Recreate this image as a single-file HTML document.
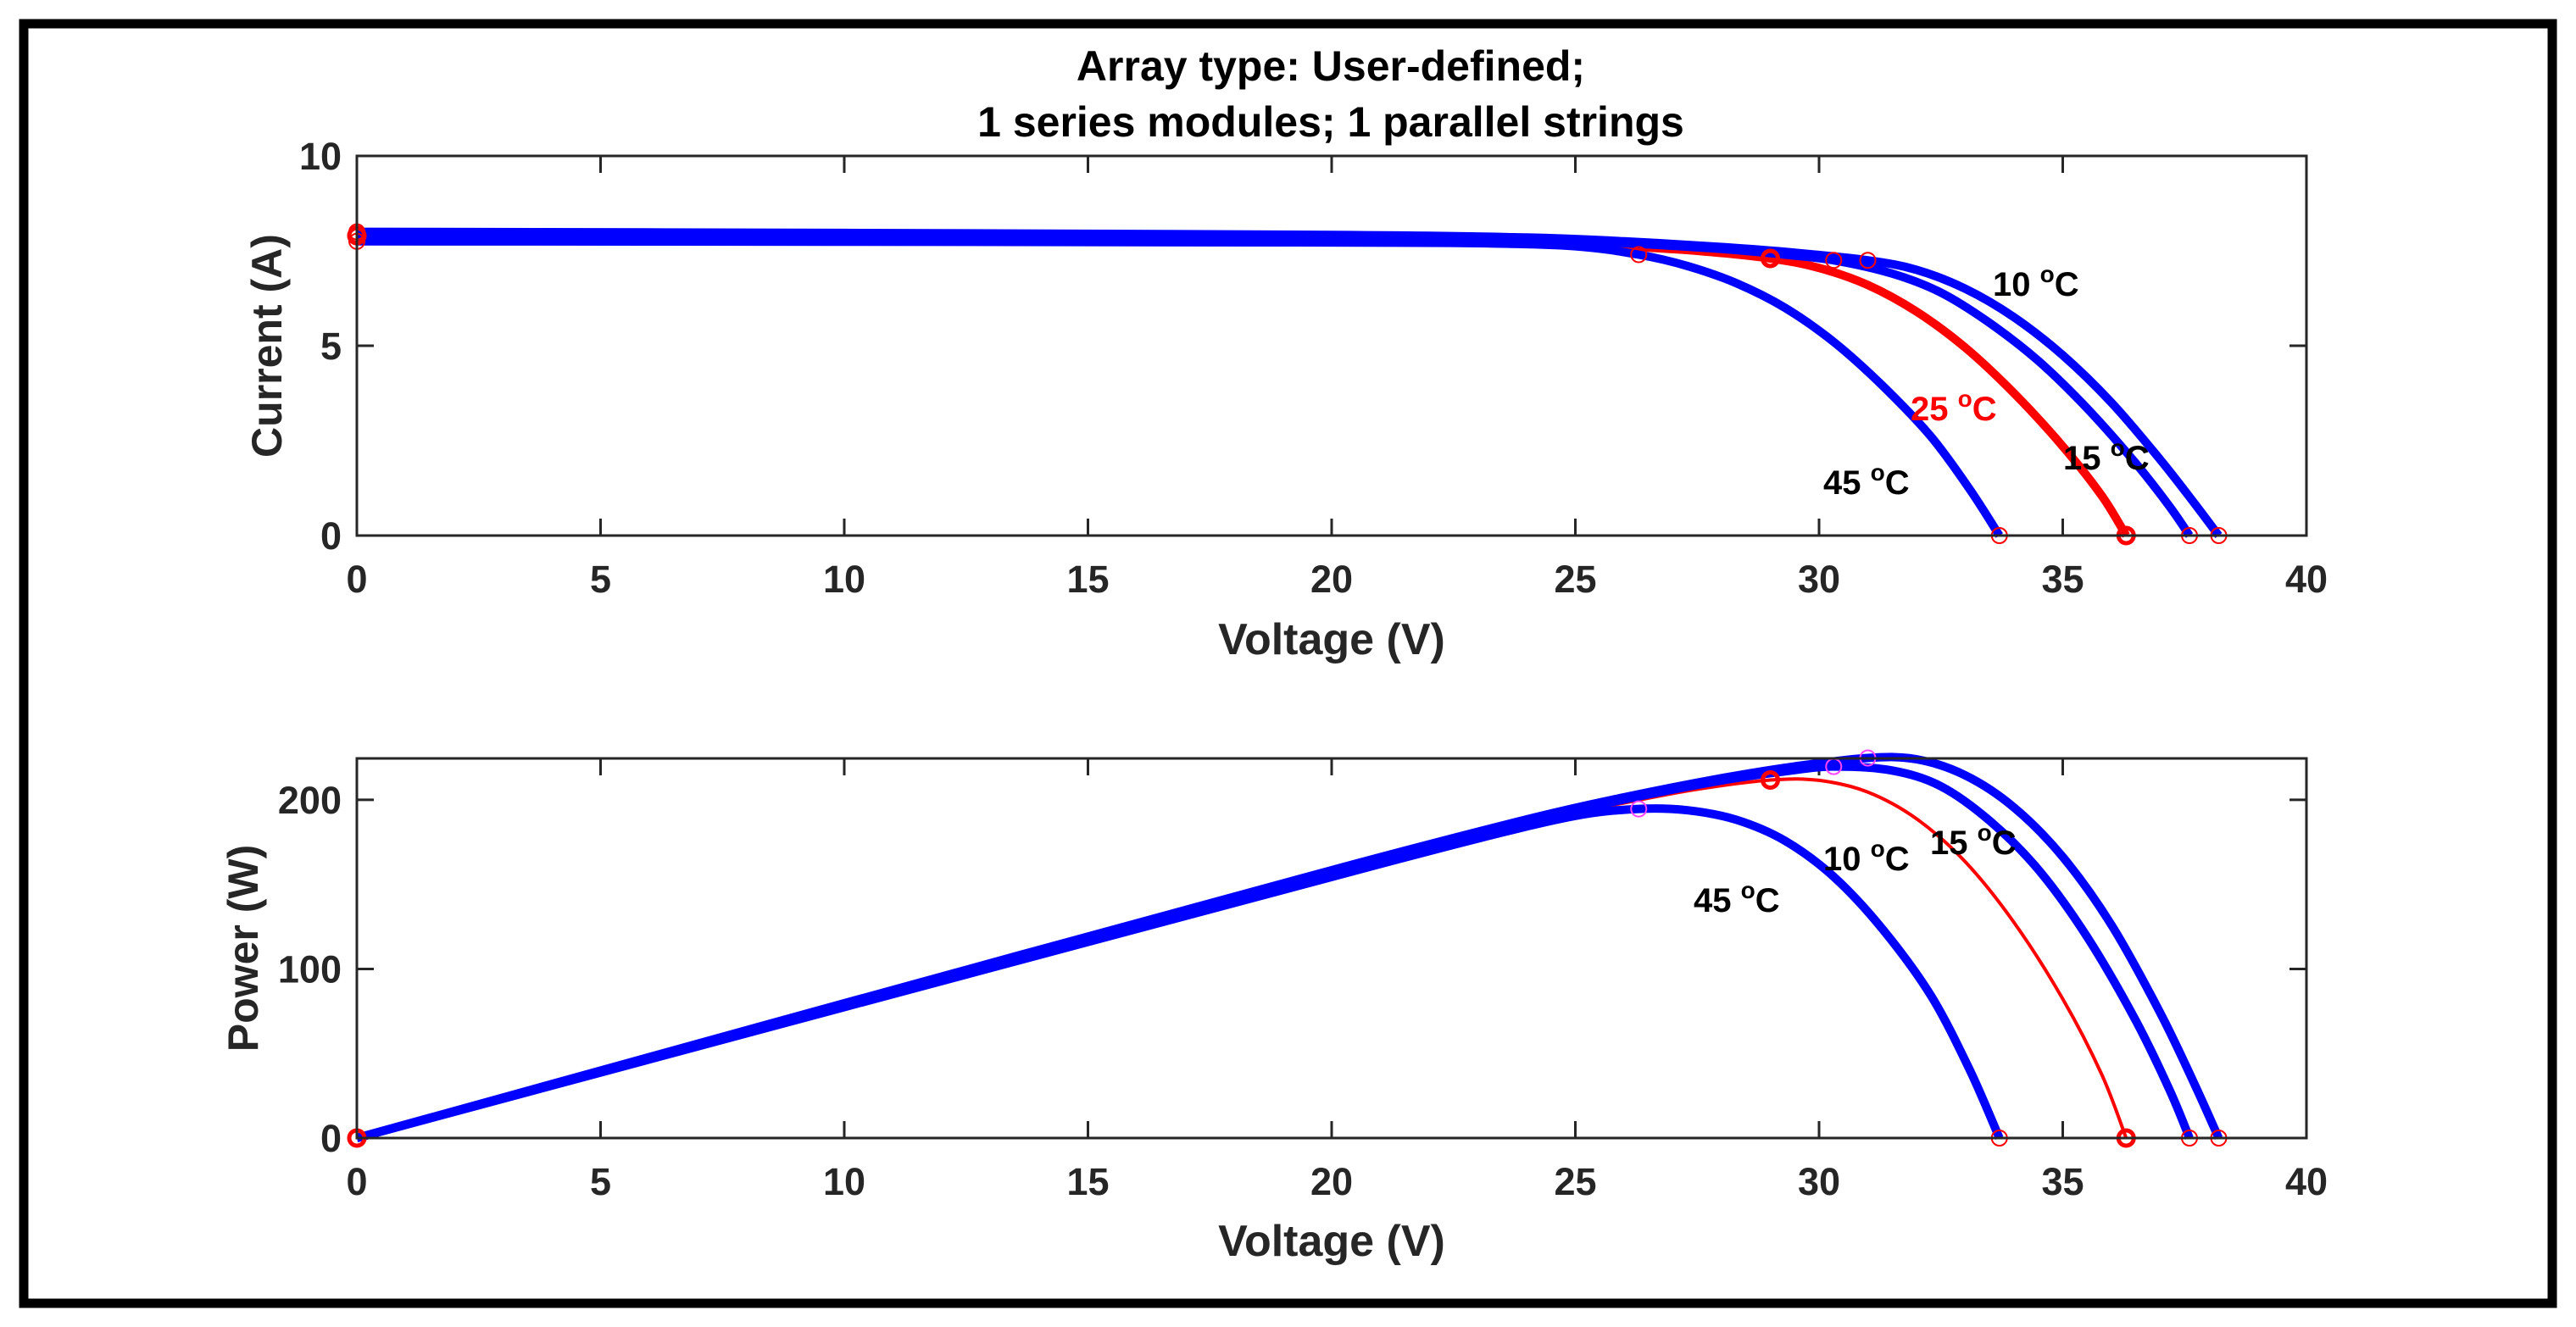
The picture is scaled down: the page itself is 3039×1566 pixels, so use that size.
<!DOCTYPE html>
<html><head><meta charset="utf-8"><style>
html,body{margin:0;padding:0;background:#fff;}
svg{display:block;font-family:"Liberation Sans",Arial,sans-serif;}
</style></head><body>
<svg id="chart" width="3039" height="1566" viewBox="0 0 3039 1566" xmlns="http://www.w3.org/2000/svg">
<rect x="0" y="0" width="3039" height="1566" fill="#fff"/>
<rect x="28" y="28" width="2983" height="1510" fill="none" stroke="#000" stroke-width="11"/>
<text x="1570" y="95" font-size="50" font-weight="bold" text-anchor="middle">Array type: User-defined;</text>
<text x="1570" y="161" font-size="50" font-weight="bold" text-anchor="middle">1 series modules; 1 parallel strings</text>
<g id="ax1"></g>
<g id="ax2"></g>
</svg>
<script>
// ---- data ----
const temps = ["45", "25", "15", "10"];
const v45 = [0, 10, 20, 23, 25, 26.3, 27.3, 28.3, 29.3, 30.3, 31.3, 32.3, 33.1, 33.7];
const i45 = [7.75, 7.74, 7.72, 7.7, 7.62, 7.4, 7.1, 6.65, 6.0, 5.1, 3.95, 2.6, 1.2, 0];
const v25 = [0, 10, 20, 24, 26, 27.5, 29, 30, 31, 32, 33, 34, 35, 35.8, 36.3];
const i25 = [7.9, 7.88, 7.83, 7.75, 7.62, 7.5, 7.3, 7.05, 6.6, 5.9, 4.95, 3.75, 2.35, 1.05, 0];
const v15 = [0, 10, 20, 24, 26, 28, 29.3, 30.3, 31.5, 32.5, 33.5, 34.5, 35.5, 36.5, 37.2, 37.6];
const i15 = [7.95, 7.92, 7.88, 7.8, 7.7, 7.55, 7.4, 7.25, 6.9, 6.4, 5.6, 4.6, 3.35, 1.9, 0.75, 0];
const v10 = [0, 10, 20, 24, 26, 28, 29.5, 31, 32, 33, 34, 35, 36, 37, 37.7, 38.2];
const i10 = [8.0, 7.97, 7.92, 7.85, 7.75, 7.6, 7.45, 7.25, 7.0, 6.5, 5.75, 4.75, 3.5, 2.0, 0.85, 0];
const mppV = [26.3, 29, 30.3, 31];
const mppI = [7.4, 7.3, 7.25, 7.25];
const xTicks = [0, 5, 10, 15, 20, 25, 30, 35, 40];
const iTicks = [0, 5, 10];
const pTicks = [0, 100, 200];

const NS = "http://www.w3.org/2000/svg";
const X0 = 421, X1 = 2721;
const xs = v => X0 + (v / 40) * (X1 - X0);
const A1 = {top: 184, bot: 632, max: 10};
const A2 = {top: 895, bot: 1343, max: 224.5};
const ys1 = i => A1.bot - (i / A1.max) * (A1.bot - A1.top);
const ys2 = p => A2.bot - (p / A2.max) * (A2.bot - A2.top);

function mk(parent, tag, attrs) {
  const e = document.createElementNS(NS, tag);
  for (const k in attrs) e.setAttribute(k, attrs[k]);
  parent.appendChild(e);
  return e;
}
function smooth(pts) {
  let d = "M" + pts[0][0].toFixed(1) + "," + pts[0][1].toFixed(1);
  for (let k = 0; k < pts.length - 1; k++) {
    const p0 = pts[Math.max(0, k - 1)], p1 = pts[k], p2 = pts[k + 1], p3 = pts[Math.min(pts.length - 1, k + 2)];
    const c1x = p1[0] + (p2[0] - p0[0]) / 6, c1y = p1[1] + (p2[1] - p0[1]) / 6;
    const c2x = p2[0] - (p3[0] - p1[0]) / 6, c2y = p2[1] - (p3[1] - p1[1]) / 6;
    d += " C" + c1x.toFixed(1) + "," + c1y.toFixed(1) + " " + c2x.toFixed(1) + "," + c2y.toFixed(1) + " " + p2[0].toFixed(1) + "," + p2[1].toFixed(1);
  }
  return d;
}

function axes(g, A, ys, ticks, xlabY, ylab, ylabX) {
  mk(g, "rect", {x: X0, y: A.top, width: X1 - X0, height: A.bot - A.top, fill: "#fff", stroke: "none"});
  xTicks.forEach(t => {
    const x = xs(t);
    let e = mk(g, "line", {x1: x, x2: x, y1: A.bot, y2: A.bot - 20, stroke: "#262626", "stroke-width": 3});
    
    
    e = mk(g, "line", {x1: x, x2: x, y1: A.top, y2: A.top + 20, stroke: "#262626", "stroke-width": 3});
    
    
    e = mk(g, "text", {x: x, y: A.bot + 67, "font-size": 45, "font-weight": "bold", "text-anchor": "middle", fill: "#262626"});
    e.textContent = t;
    
    
  });
  ticks.forEach(t => {
    const y = ys(t);
    let e = mk(g, "line", {x1: X0, x2: X0 + 20, y1: y, y2: y, stroke: "#262626", "stroke-width": 3});
    
    
    e = mk(g, "line", {x1: X1, x2: X1 - 20, y1: y, y2: y, stroke: "#262626", "stroke-width": 3});
    
    
    e = mk(g, "text", {x: X0 - 18, y: y + 16, "font-size": 45, "font-weight": "bold", "text-anchor": "end", fill: "#262626"});
    e.textContent = t;
    
    
  });
  let e = mk(g, "text", {x: 1571, y: xlabY, "font-size": 52, "font-weight": "bold", "text-anchor": "middle", fill: "#262626"});
  e.textContent = "Voltage (V)";
  
  
  const cy = (A.top + A.bot) / 2;
  e = mk(g, "text", {x: ylabX, y: cy, "font-size": 50, "font-weight": "bold", "text-anchor": "middle", fill: "#262626", transform: "rotate(-90 " + ylabX + " " + cy + ")"});
  e.textContent = ylab;
  
  
}

const g1 = document.getElementById("ax1"), g2 = document.getElementById("ax2");
axes(g1, A1, ys1, iTicks, 772, "Current (A)", 332, "iv");
axes(g2, A2, ys2, pTicks, 1482, "Power (W)", 304, "pv");

const series = [[v45, i45], [v25, i25], [v15, i15], [v10, i10]];
const colors = ["#0000ff", "#ff0000", "#0000ff", "#0000ff"];
const order = [1, 0, 2, 3];
order.forEach(s => {
  const [V, I] = series[s];
  const red = s === 1;
  let p = mk(g1, "path", {d: smooth(V.map((v, k) => [xs(v), ys1(I[k])])), fill: "none", stroke: colors[s], "stroke-width": 10, "stroke-linejoin": "round"});
  
  
  p = mk(g2, "path", {d: smooth(V.map((v, k) => [xs(v), ys2(v * I[k])])), fill: "none", stroke: colors[s], "stroke-width": red ? 4 : 10, "stroke-linejoin": "round"});
  
  
});
[0, 1, 2, 3].forEach(s => {
  const [V, I] = series[s];
  const red = s === 1;
  const sw = red ? 5 : 2;
  const voc = V[V.length - 1];
  const pts1 = [[xs(0), ys1(I[0])], [xs(mppV[s]), ys1(mppI[s])], [xs(voc), ys1(0)]];
  const pts2 = [[xs(0), ys2(0)], [xs(mppV[s]), ys2(mppV[s] * mppI[s])], [xs(voc), ys2(0)]];
  pts1.forEach(q => {
    const c = mk(g1, "circle", {cx: q[0], cy: q[1], r: 9, fill: "none", stroke: "#ff0000", "stroke-width": sw});
    
    
  });
  pts2.forEach((q, k) => {
    const c = mk(g2, "circle", {cx: q[0], cy: q[1], r: 9, fill: "none", stroke: (k === 1 && !red) ? "#ff44ff" : "#ff0000", "stroke-width": sw});
    
    
  });
});
[[g1, A1], [g2, A2]].forEach(([g, A]) => {
  const r = mk(g, "rect", {x: X0, y: A.top, width: X1 - X0, height: A.bot - A.top, fill: "none", stroke: "#262626", "stroke-width": 3});
  
  
});
const lab1 = [["10", 2351, 349, "#000"], ["25", 2254, 496, "#ff0000"], ["15", 2434, 554, "#000"], ["45", 2151, 583, "#000"]];
const lab2 = [["45", 1998, 1076, "#000"], ["10", 2151, 1027, "#000"], ["15", 2277, 1008, "#000"]];
function addLab(g, L, prefix) {
  L.forEach(([t, x, y, c]) => {
    const e = mk(g, "text", {x: x, y: y, "font-size": 40, "font-weight": "bold", fill: c});
    
    
    const a = mk(e, "tspan", {});
    a.textContent = t + " ";
    const b = mk(e, "tspan", {dy: -16, "font-size": 28});
    b.textContent = "o";
    const d = mk(e, "tspan", {dy: 16});
    d.textContent = "C";
  });
}
addLab(g1, lab1, "iv");
addLab(g2, lab2, "pv");
</script>
</body></html>
